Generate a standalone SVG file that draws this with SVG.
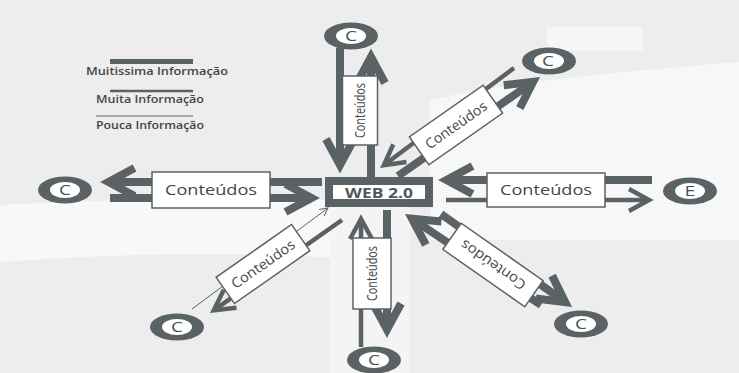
<svg xmlns="http://www.w3.org/2000/svg" width="739" height="373" viewBox="0 0 739 373">
<defs>
<style>
.ln{stroke:#5a6265;fill:none;stroke-linecap:butt}
.k{stroke-width:8}
.m{stroke-width:4.5}
.s{stroke-width:1}
.ro{fill:#5a6265}
.ri{fill:#fff}
.rt{font-family:"Open Sans","Liberation Sans",sans-serif;font-size:14px;fill:#4a5255;text-anchor:middle}
.box{fill:#fff;stroke:#5a6265;stroke-width:1.5}
.bt{font-family:"Open Sans","Liberation Sans",sans-serif;font-size:14px;fill:#3f4749;text-anchor:middle}
.wt{font-family:"Open Sans","Liberation Sans",sans-serif;font-size:15px;font-weight:bold;fill:#50585b;text-anchor:middle}
.lg{font-family:"Open Sans","Liberation Sans",sans-serif;font-size:11.5px;fill:#3f4749;font-weight:600}
</style>
<marker id="aK" markerUnits="userSpaceOnUse" markerWidth="40" markerHeight="40" orient="auto" refX="0" refY="0" style="overflow:visible"><path d="M-26,-14 L0,0 L-26,14" fill="none" stroke="#5a6265" stroke-width="8"/></marker>
<marker id="aM" markerUnits="userSpaceOnUse" markerWidth="40" markerHeight="40" orient="auto" refX="0" refY="0" style="overflow:visible"><path d="M-20,-11 L0,0 L-20,11" fill="none" stroke="#5a6265" stroke-width="4.5"/></marker>
<marker id="aS" markerUnits="userSpaceOnUse" markerWidth="20" markerHeight="20" orient="auto" refX="0" refY="0" style="overflow:visible"><path d="M-8,-4 L0,0 L-8,4" fill="none" stroke="#5a6265" stroke-width="1"/></marker>
</defs>

<g id="background">
<rect width="739" height="373" fill="#ededed"/>
<path d="M430,100 C520,80 640,70 739,62 L739,240 L430,240 Z" fill="#f7f7f7"/>
<path d="M0,205 C120,200 240,196 335,200 L335,258 C220,250 100,255 0,262 Z" fill="#f8f8f8"/>
<rect x="330" y="205" width="80" height="168" fill="#f4f4f4"/>
<rect x="547" y="27" width="96" height="23" fill="#f6f6f6"/>
</g>

<g id="legend">
<line class="ln" x1="110" y1="61.5" x2="193" y2="61.5" stroke-width="5"/>
<text class="lg" x="86" y="75" textLength="142" lengthAdjust="spacingAndGlyphs">Muitissima Informação</text>
<line class="ln" x1="110" y1="91" x2="193" y2="91" stroke-width="2.5"/>
<text class="lg" x="96" y="103" textLength="108" lengthAdjust="spacingAndGlyphs">Muita Informação</text>
<line class="ln" x1="96" y1="116" x2="193" y2="116" stroke-width="1"/>
<text class="lg" x="96" y="129" textLength="108" lengthAdjust="spacingAndGlyphs">Pouca Informação</text>
</g>

<g id="connectors">
<line class="ln k" x1="340" y1="48" x2="340" y2="165" marker-end="url(#aK)"/>
<line class="ln k" x1="371" y1="177" x2="371" y2="57" marker-end="url(#aK)"/>
<line class="ln k" x1="322" y1="182" x2="108.5" y2="182" marker-end="url(#aK)"/>
<line class="ln k" x1="110" y1="198" x2="311.5" y2="198" marker-end="url(#aK)"/>
<line class="ln k" x1="652" y1="180" x2="446.5" y2="180" marker-end="url(#aK)"/>
<line class="ln m" x1="446" y1="200" x2="649" y2="200" marker-end="url(#aM)"/>
<line class="ln m" x1="361" y1="347" x2="361" y2="219" marker-end="url(#aM)"/>
<line class="ln k" x1="387" y1="210" x2="387" y2="329.5" marker-end="url(#aK)"/>
<line class="ln m" x1="514" y1="68" x2="383.8" y2="165.2" marker-end="url(#aM)"/>
<line class="ln k" x1="398" y1="176" x2="533.1" y2="81.8" marker-end="url(#aK)"/>
<line class="ln s" x1="192" y1="309" x2="328" y2="208" marker-end="url(#aS)"/>
<line class="ln m" x1="342" y1="220" x2="213.8" y2="310.3" marker-end="url(#aM)"/>
<line class="ln k" x1="541" y1="305" x2="412" y2="218.7" marker-end="url(#aK)"/>
<line class="ln k" x1="441" y1="214" x2="565.2" y2="302.1" marker-end="url(#aK)"/>

<g id="label-top" transform="translate(360,110.5) rotate(-90)">
<rect class="box" x="-34.5" y="-17.5" width="69" height="35"/>
<text class="bt" x="0" y="5" textLength="55" lengthAdjust="spacingAndGlyphs">Conteúdos</text>
</g>
<g id="label-left" transform="translate(211,190)">
<rect class="box" x="-59" y="-18" width="118" height="36"/>
<text class="bt" x="0" y="5" font-size="15" textLength="92" lengthAdjust="spacingAndGlyphs">Conteúdos</text>
</g>
<g id="label-right" transform="translate(546,190)">
<rect class="box" x="-59" y="-17" width="118" height="34"/>
<text class="bt" x="0" y="5" font-size="15" textLength="92" lengthAdjust="spacingAndGlyphs">Conteúdos</text>
</g>
<g id="label-bottom" transform="translate(372,273.5) rotate(-90)">
<rect class="box" x="-35.5" y="-19" width="71" height="38"/>
<text class="bt" x="0" y="5" textLength="55" lengthAdjust="spacingAndGlyphs">Conteúdos</text>
</g>
<g id="label-topright" transform="translate(456,125) rotate(-35)">
<rect class="box" x="-45" y="-17" width="90" height="34"/>
<text class="bt" x="0" y="5" textLength="72" lengthAdjust="spacingAndGlyphs">Conteúdos</text>
</g>
<g id="label-bottomleft" transform="translate(263,264) rotate(-35)">
<rect class="box" x="-46" y="-16" width="92" height="32"/>
<text class="bt" x="0" y="5" textLength="74" lengthAdjust="spacingAndGlyphs">Conteúdos</text>
</g>
<g id="label-bottomright" transform="translate(493,265) rotate(215)">
<rect class="box" x="-50" y="-16" width="100" height="32"/>
<text class="bt" x="0" y="5" textLength="76" lengthAdjust="spacingAndGlyphs">Conteúdos</text>
</g>
</g>

<g id="web">
<rect x="329" y="181" width="100" height="22" fill="#fff" stroke="#5a6265" stroke-width="8"/>
<text class="wt" x="379" y="197.5" textLength="68" lengthAdjust="spacingAndGlyphs">WEB 2.0</text>
</g>

<g id="c-top"><ellipse class="ro" cx="351" cy="36" rx="27" ry="13.5"/><ellipse class="ri" cx="351" cy="36" rx="15" ry="8"/><text class="rt" x="351" y="41" textLength="12" lengthAdjust="spacingAndGlyphs">C</text></g>
<g id="c-topright"><ellipse class="ro" cx="549" cy="61" rx="27" ry="13.5"/><ellipse class="ri" cx="549" cy="61" rx="15" ry="8"/><text class="rt" x="548" y="66" textLength="12" lengthAdjust="spacingAndGlyphs">C</text></g>
<g id="c-left"><ellipse class="ro" cx="65" cy="190" rx="27" ry="13.5"/><ellipse class="ri" cx="65" cy="190" rx="15" ry="8"/><text class="rt" x="65" y="195" textLength="12" lengthAdjust="spacingAndGlyphs">C</text></g>
<g id="e-right"><ellipse class="ro" cx="690" cy="191" rx="27" ry="13.5"/><ellipse class="ri" cx="690" cy="191" rx="15" ry="8"/><text class="rt" x="690" y="196" textLength="11" lengthAdjust="spacingAndGlyphs">E</text></g>
<g id="c-bottomleft"><ellipse class="ro" cx="177" cy="327" rx="27" ry="13.5"/><ellipse class="ri" cx="177" cy="327" rx="15" ry="8"/><text class="rt" x="177" y="332" textLength="12" lengthAdjust="spacingAndGlyphs">C</text></g>
<g id="c-bottom"><ellipse class="ro" cx="374" cy="360" rx="27" ry="13.5"/><ellipse class="ri" cx="374" cy="360" rx="15" ry="8"/><text class="rt" x="374" y="365" textLength="12" lengthAdjust="spacingAndGlyphs">C</text></g>
<g id="c-bottomright"><ellipse class="ro" cx="581" cy="324" rx="27" ry="13.5"/><ellipse class="ri" cx="581" cy="324" rx="15" ry="8"/><text class="rt" x="581" y="329" textLength="12" lengthAdjust="spacingAndGlyphs">C</text></g>
</svg>
